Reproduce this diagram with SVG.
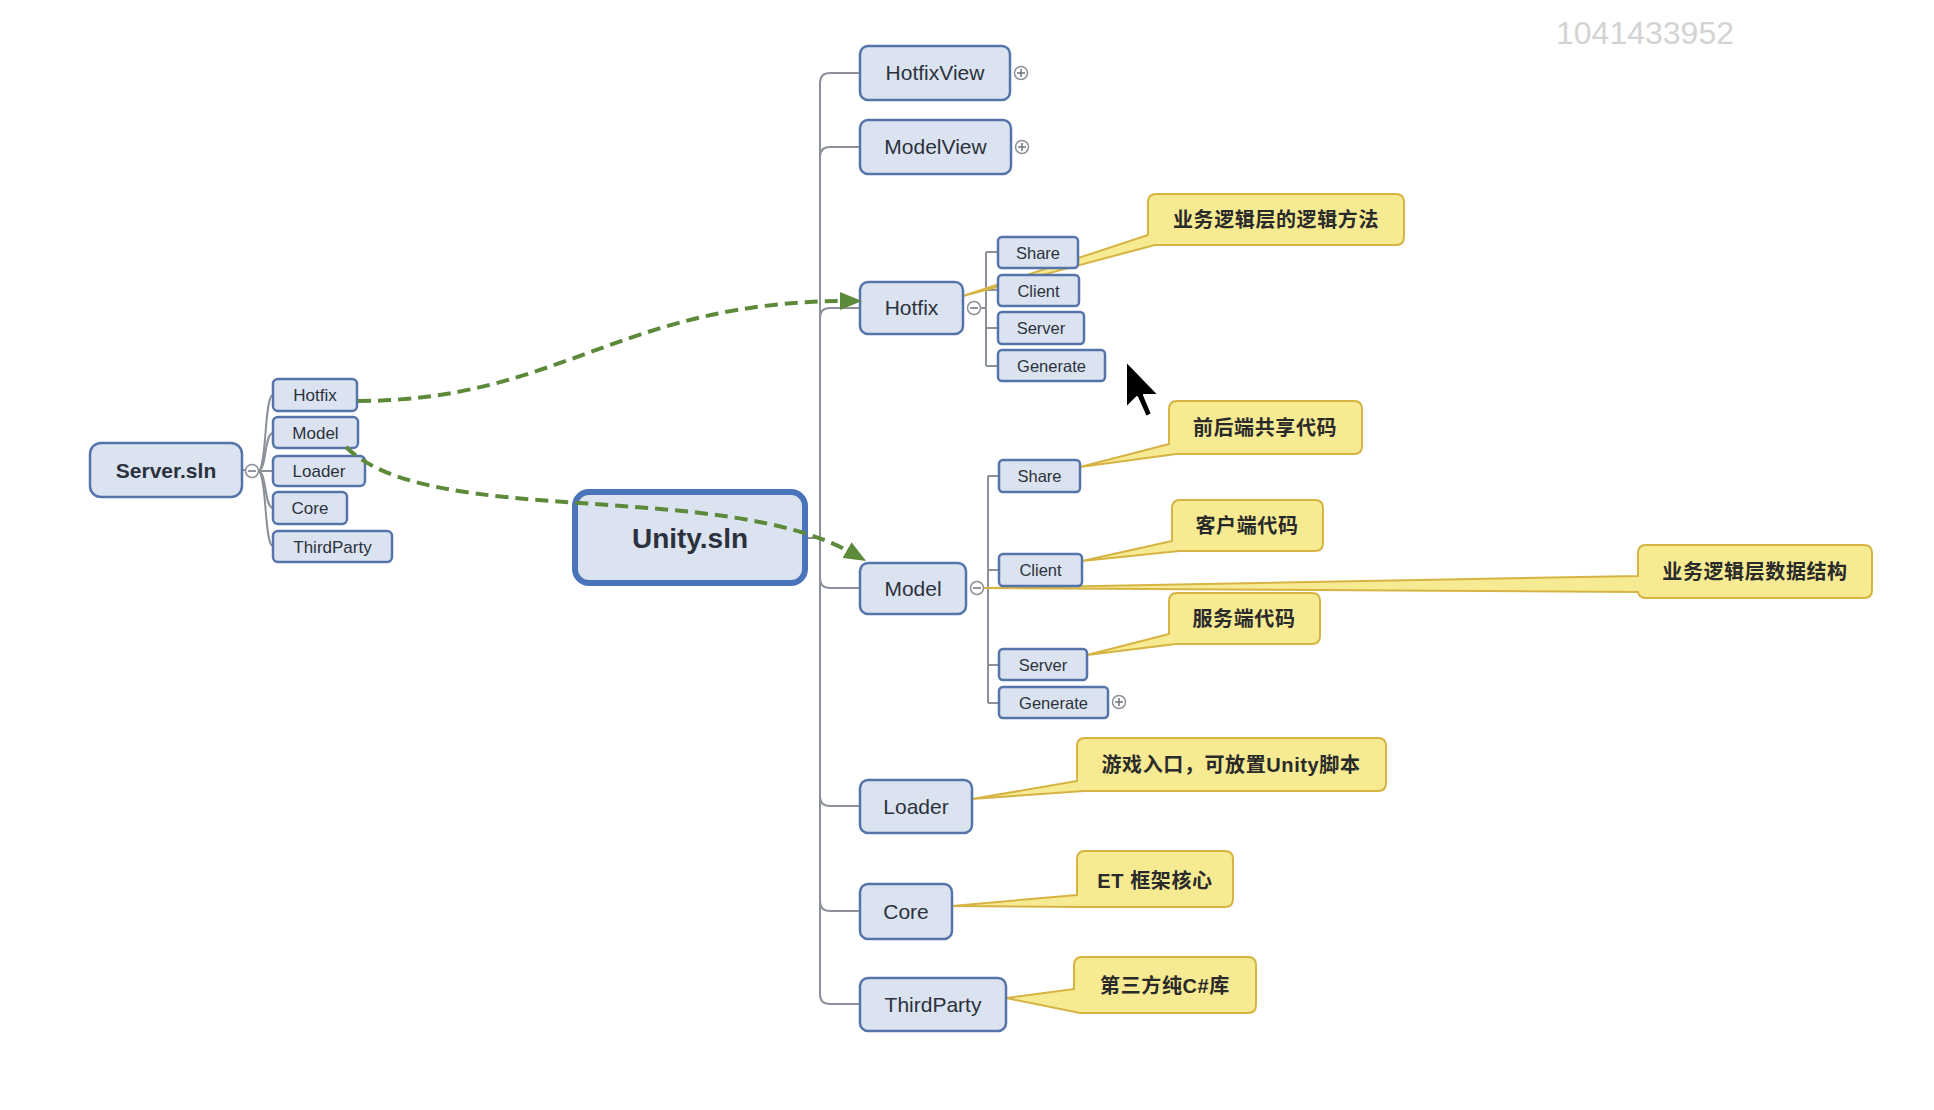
<svg xmlns="http://www.w3.org/2000/svg" width="1934" height="1110" viewBox="0 0 1934 1110">
<style>
.n{fill:#dbe3f0;stroke:#5474aa;stroke-width:2.5}
.t{font-family:"Liberation Sans",Arial,sans-serif;fill:#2c323d;text-anchor:middle}
.b{font-weight:bold}
.co{fill:#f6ea92;stroke:#d6b444;stroke-width:2;stroke-linejoin:round}
.ct{font-family:"Liberation Sans","Noto Sans CJK SC",sans-serif;font-weight:bold;font-size:20px;fill:#2a2a2a;text-anchor:middle;letter-spacing:0.6px}
.ln{fill:none;stroke:#8b9099;stroke-width:2}
.tg{fill:#fff;stroke:#8d929a;stroke-width:1.5}
.tgl{stroke:#6f747c;stroke-width:1.5}
.dash{fill:none;stroke:#5d8a3a;stroke-width:4;stroke-dasharray:13 7}
</style>
<defs>
<marker id="ga" markerUnits="userSpaceOnUse" markerWidth="22" markerHeight="18" viewBox="0 0 22 18" refX="8" refY="9" orient="auto">
<path d="M0,0 L22,9 L0,18 z" fill="#5d8a3a"/>
</marker>
</defs>
<rect width="1934" height="1110" fill="#ffffff"/>
<text x="1645" y="44" font-family="Liberation Sans, Arial, sans-serif" font-size="32" fill="#d3d3d3" text-anchor="middle">1041433952</text>

<g id="connectors">
<path class="ln" d="M820,83 V994"/>
<path class="ln" d="M808,538 H820"/>
<path class="ln" d="M820,83 Q820,73 830,73 H860"/>
<path class="ln" d="M820,157 Q820,147 830,147 H860"/>
<path class="ln" d="M820,318 Q820,308 830,308 H860"/>
<path class="ln" d="M820,578 Q820,588 830,588 H860"/>
<path class="ln" d="M820,796 Q820,806 830,806 H860"/>
<path class="ln" d="M820,901 Q820,911 830,911 H860"/>
<path class="ln" d="M820,994 Q820,1004 830,1004 H860"/>
<path class="ln" d="M981,308 H986 M986,252 V366 M986,252 H998 M986,290 H998 M986,328 H998 M986,366 H998"/>
<path class="ln" d="M984,588 H988 M988,476 V703 M988,476 H999 M988,570 H999 M988,665 H999 M988,703 H999"/>
<path class="ln" d="M242,470 H246"/>
<path class="ln" d="M258,471 C267,471 264,395 273,395"/>
<path class="ln" d="M258,471 C267,471 264,433 273,433"/>
<path class="ln" d="M258,471 H273"/>
<path class="ln" d="M258,471 C267,471 264,508 273,508"/>
<path class="ln" d="M258,471 C267,471 264,546 273,546"/>
</g>

<g id="callout-hotfix"><path class="co" d="M1156,194 H1396 Q1404,194 1404,202 V237 Q1404,245 1396,245 H1155 L963,296 L1148,235 V202 Q1148,194 1156,194 Z"/>
<text class="ct" x="1276" y="227">业务逻辑层的逻辑方法</text></g>
<g id="callout-model-share"><path class="co" d="M1177,401 H1354 Q1362,401 1362,409 V446 Q1362,454 1354,454 H1176 L1080,467 L1169,444 V409 Q1169,401 1177,401 Z"/>
<text class="ct" x="1265" y="435">前后端共享代码</text></g>
<g id="callout-model-client"><path class="co" d="M1180,500 H1315 Q1323,500 1323,508 V543 Q1323,551 1315,551 H1179 L1082,561 L1172,541 V508 Q1172,500 1180,500 Z"/>
<text class="ct" x="1247" y="533">客户端代码</text></g>
<g id="callout-model-server"><path class="co" d="M1177,593 H1312 Q1320,593 1320,601 V636 Q1320,644 1312,644 H1176 L1087,655 L1169,634 V601 Q1169,593 1177,593 Z"/>
<text class="ct" x="1244" y="626">服务端代码</text></g>
<g id="callout-model"><path class="co" d="M1646,545 H1864 Q1872,545 1872,553 V590 Q1872,598 1864,598 H1646 Q1639,598 1638,592 L985,588 L1638,576 V553 Q1638,545 1646,545 Z"/>
<text class="ct" x="1755" y="579">业务逻辑层数据结构</text></g>
<g id="callout-loader"><path class="co" d="M1085,738 H1378 Q1386,738 1386,746 V783 Q1386,791 1378,791 H1084 L972,799 L1077,781 V746 Q1077,738 1085,738 Z"/>
<text class="ct" x="1231" y="772">游戏入口，可放置Unity脚本</text></g>
<g id="callout-core"><path class="co" d="M1085,851 H1225 Q1233,851 1233,859 V899 Q1233,907 1225,907 H1083 L952,906 L1077,895 V859 Q1077,851 1085,851 Z"/>
<text class="ct" x="1155" y="888">ET 框架核心</text></g>
<g id="callout-thirdparty"><path class="co" d="M1082,957 H1248 Q1256,957 1256,965 V1005 Q1256,1013 1248,1013 H1080 L1006,998 L1074,989 V965 Q1074,957 1082,957 Z"/>
<text class="ct" x="1165" y="993">第三方纯C#库</text></g>

<g id="server-sln">
<rect class="n" x="90" y="443" width="152" height="54" rx="11"/>
<text class="t b" x="166" y="478" font-size="21">Server.sln</text>
<circle class="tg" cx="252" cy="471" r="6.5"/><path class="tgl" d="M248,471 H256"/>
</g>
<g id="s-hotfix"><rect class="n" x="273" y="379" width="84" height="32" rx="5" stroke-width="2"/><text class="t" x="315" y="401" font-size="17">Hotfix</text></g>
<g id="s-model"><rect class="n" x="273" y="417" width="85" height="31" rx="5" stroke-width="2"/><text class="t" x="315.5" y="439" font-size="17">Model</text></g>
<g id="s-loader"><rect class="n" x="273" y="456" width="92" height="30" rx="5" stroke-width="2"/><text class="t" x="319" y="477" font-size="17">Loader</text></g>
<g id="s-core"><rect class="n" x="273" y="492" width="74" height="32" rx="5" stroke-width="2"/><text class="t" x="310" y="514" font-size="17">Core</text></g>
<g id="s-thirdparty"><rect class="n" x="273" y="531" width="119" height="31" rx="5" stroke-width="2"/><text class="t" x="332.5" y="553" font-size="17">ThirdParty</text></g>

<g id="unity-sln">
<rect x="575" y="492" width="230" height="91" rx="14" fill="#dbe3f0" stroke="#4a74ba" stroke-width="6"/>
<text class="t b" x="690" y="548" font-size="28">Unity.sln</text>
</g>

<g id="hotfixview"><rect class="n" x="860" y="46" width="150" height="54" rx="8"/><text class="t" x="935" y="80" font-size="21">HotfixView</text>
<circle class="tg" cx="1021" cy="73" r="6.5"/><path class="tgl" d="M1017,73 H1025 M1021,69 V77"/></g>
<g id="modelview"><rect class="n" x="860" y="120" width="151" height="54" rx="8"/><text class="t" x="935.5" y="154" font-size="21">ModelView</text>
<circle class="tg" cx="1022" cy="147" r="6.5"/><path class="tgl" d="M1018,147 H1026 M1022,143 V151"/></g>
<g id="hotfix"><rect class="n" x="860" y="282" width="103" height="52" rx="8"/><text class="t" x="911.5" y="315" font-size="21">Hotfix</text>
<circle class="tg" cx="974" cy="308" r="6.5"/><path class="tgl" d="M970,308 H978"/></g>
<g id="model"><rect class="n" x="860" y="563" width="106" height="51" rx="8"/><text class="t" x="913" y="596" font-size="21">Model</text>
<circle class="tg" cx="977" cy="588" r="6.5"/><path class="tgl" d="M973,588 H981"/></g>
<g id="loader"><rect class="n" x="860" y="780" width="112" height="53" rx="8"/><text class="t" x="916" y="814" font-size="21">Loader</text></g>
<g id="core"><rect class="n" x="860" y="884" width="92" height="55" rx="8"/><text class="t" x="906" y="919" font-size="21">Core</text></g>
<g id="thirdparty"><rect class="n" x="860" y="978" width="146" height="53" rx="8"/><text class="t" x="933" y="1012" font-size="21">ThirdParty</text></g>

<g id="hotfix-share"><rect class="n" x="998" y="237" width="80" height="31" rx="4" stroke-width="2"/><text class="t" x="1038" y="258.5" font-size="16.5">Share</text></g>
<g id="hotfix-client"><rect class="n" x="998" y="275" width="81" height="31" rx="4" stroke-width="2"/><text class="t" x="1038.5" y="296.5" font-size="16.5">Client</text></g>
<g id="hotfix-server"><rect class="n" x="998" y="312" width="86" height="32" rx="4" stroke-width="2"/><text class="t" x="1041" y="334" font-size="16.5">Server</text></g>
<g id="hotfix-generate"><rect class="n" x="998" y="350" width="107" height="31" rx="4" stroke-width="2"/><text class="t" x="1051.5" y="371.5" font-size="16.5">Generate</text></g>

<g id="model-share"><rect class="n" x="999" y="460" width="81" height="32" rx="4" stroke-width="2"/><text class="t" x="1039.5" y="482" font-size="16.5">Share</text></g>
<g id="model-client"><rect class="n" x="999" y="554" width="83" height="32" rx="4" stroke-width="2"/><text class="t" x="1040.5" y="576" font-size="16.5">Client</text></g>
<g id="model-server"><rect class="n" x="999" y="649" width="88" height="31" rx="4" stroke-width="2"/><text class="t" x="1043" y="670.5" font-size="16.5">Server</text></g>
<g id="model-generate"><rect class="n" x="999" y="687" width="109" height="31" rx="4" stroke-width="2"/><text class="t" x="1053.5" y="708.5" font-size="16.5">Generate</text>
<circle class="tg" cx="1119" cy="702" r="6.5"/><path class="tgl" d="M1115,702 H1123 M1119,698 V706"/></g>

<g id="links">
<path class="dash" d="M358,401 C560,401 620,301 848,301" marker-end="url(#ga)"/>
<path class="dash" d="M346,447 C430,530 720,478 854,554" marker-end="url(#ga)"/>
</g>

<path d="M1126,361 L1126,408 L1137,397 L1146,417 L1152,414 L1144,395 L1159,395 Z" fill="#000" stroke="#fff" stroke-width="2" stroke-linejoin="round"/>
</svg>
